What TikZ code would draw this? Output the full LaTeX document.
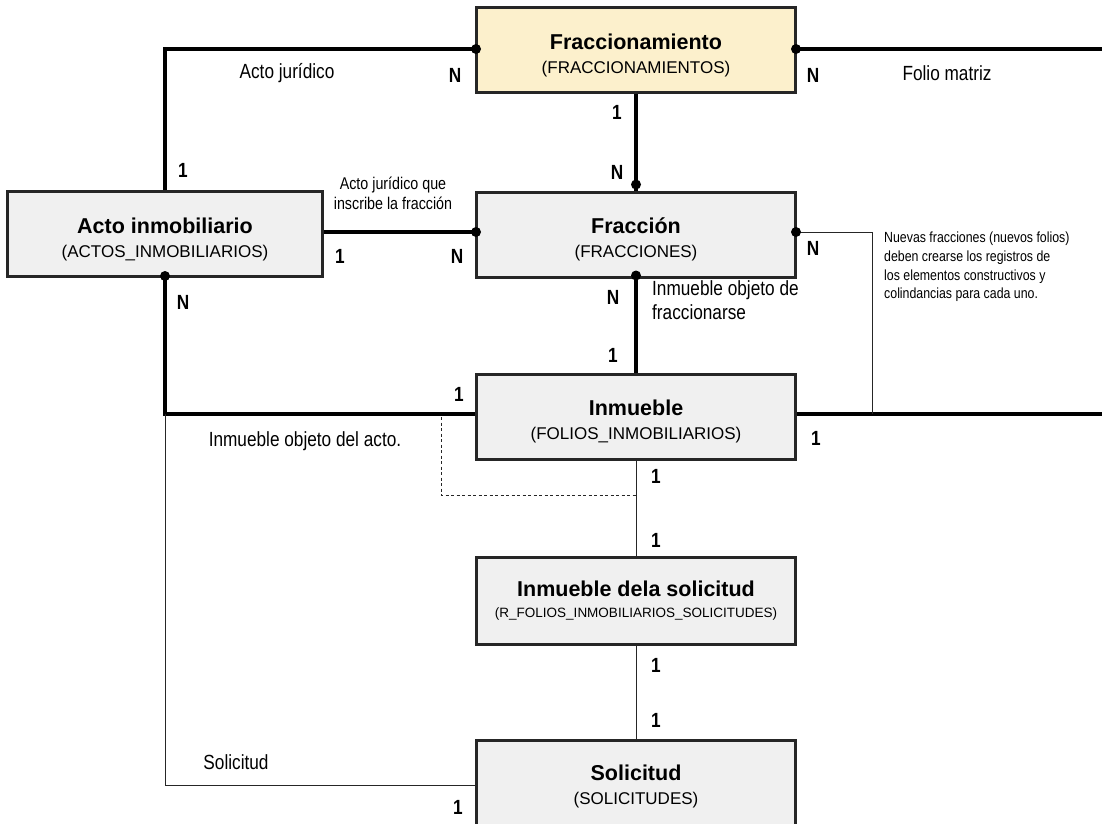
\documentclass[tikz,border=0pt]{standalone}
\usepackage{fontspec}
\setmainfont{Liberation Sans}
\newfontfamily\narrowfont[FakeStretch=0.84]{Liberation Sans}
\usetikzlibrary{calc}
\definecolor{boxgrey}{HTML}{F0F0F0}
\definecolor{boxyellow}{HTML}{FCF0CC}
\definecolor{edge}{HTML}{262626}
\tikzset{
  entity/.style={draw=edge, line width=2pt, minimum width=318pt, minimum height=84pt,
    inner sep=0pt, align=center, fill=boxgrey, font=\fontsize{17}{24}\selectfont},
  heavy/.style={line width=3.6pt, draw=black},
  light/.style={line width=1pt, draw=edge},
  dash rel/.style={line width=0.9pt, draw=edge, dash pattern=on 3pt off 2.5pt},
  card/.style={font=\narrowfont\bfseries\fontsize{20.5}{20.5}\selectfont, inner sep=0pt},
  lbl/.style={font=\narrowfont\fontsize{20.5}{24}\selectfont, inner sep=0pt, align=left},
  midlbl/.style={font=\narrowfont\fontsize{17}{20}\selectfont, inner sep=0pt, align=center},
  small/.style={font=\narrowfont\fontsize{14.7}{18.7}\selectfont, inner sep=0pt, align=left},
  dot/.style={circle, fill=black, inner sep=0pt, minimum size=10pt},
}
% entity title; the strut lowers the two-line block a little inside its box
\newcommand{\ttl}[1]{{\rule{0pt}{26pt}\fontsize{21.5}{24}\selectfont\bfseries #1}}
\begin{document}
\begin{tikzpicture}[x=1pt,y=-1pt]
\useasboundingbox (0,0) rectangle (1102,823);
\fill[white] (0,0) rectangle (1102,823);

% entities
\node[entity, fill=boxyellow] (fracc) at (636,50) {\ttl{Fraccionamiento}\\(FRACCIONAMIENTOS)};
\node[entity, minimum width=314pt] (acto) at (165,234) {\ttl{Acto inmobiliario}\\(ACTOS\_INMOBILIARIOS)};
\node[entity] (fraccion) at (636,234.5) {\ttl{Fracción}\\(FRACCIONES)};
\node[entity] (inm) at (636,416.5) {\ttl{Inmueble}\\(FOLIOS\_INMOBILIARIOS)};
\node[entity, minimum height=86pt, font=\fontsize{13.5}{21}\selectfont] (ids) at (636,601) {{\fontsize{21.5}{24}\selectfont\bfseries Inmueble dela solicitud}\\(R\_FOLIOS\_INMOBILIARIOS\_SOLICITUDES)};
\node[entity, minimum height=110pt, anchor=north] (sol) at (636,740) {};
\node[inner sep=0pt, align=center, font=\fontsize{17}{24}\selectfont] (soltext) at (636,781) {\ttl{Solicitud}\\(SOLICITUDES)};

% free ends leaving the sheet on the right
\coordinate (rtop) at (1110,49);
\coordinate (rbot) at (1110,414);
\coordinate (ncorner) at (872,414);
\coordinate (lcorner) at (165,414);
\coordinate (scorner) at (165,785);
\coordinate (dtop) at (441,417);
\coordinate (dbot) at (441,495);
\coordinate (dmid) at (636,495);

% heavy relations
\draw[heavy] (fracc.west |- 0,49) -| (acto.north);
\draw[heavy] (fracc.east |- 0,49) -- (rtop);
\draw[heavy] (fracc.south) -- (fraccion.north);
\draw[heavy] (acto.east |- 0,232) -- (fraccion.west |- 0,232);
\draw[heavy] (fraccion.south) -- (inm.north);
\draw[heavy] (acto.south) -- (lcorner) -- (inm.west |- lcorner);
\draw[heavy] (inm.east |- rbot) -- (rbot);

% light relations
\draw[light] (fraccion.east |- 0,232) -| (ncorner);
\draw[light] (inm.south) -- (ids.north);
\draw[light] (ids.south) -- (sol.north);
\draw[light] (lcorner) -- (scorner) -- (sol.west |- scorner);
\draw[dash rel] (dtop) -- (dbot) -- (dmid) -- (inm.south);

% redraw entity borders over the line ends
\foreach \n in {fracc,acto,fraccion,inm,ids,sol} \draw[edge, line width=2pt] (\n.north west) rectangle (\n.south east);

% many-side dots
\node[dot] at (fracc.west |- 0,49) {};
\node[dot] at (fracc.east |- 0,49) {};
\node[dot] at ($(fraccion.north)+(0,-7)$) {};
\node[dot] at (fraccion.west |- 0,232) {};
\node[dot] at (fraccion.east |- 0,232) {};
\node[dot] at ($(fraccion.south)+(0,-2)$) {};
\node[dot] at ($(acto.south)+(0,-1)$) {};

% cardinalities
\node[card] at (455,75) {N};
\node[card] at (813,75) {N};
\node[card] at (183,170) {1};
\node[card] at (617,112) {1};
\node[card] at (617,172) {N};
\node[card] at (340,256) {1};
\node[card] at (457,256) {N};
\node[card] at (813,248) {N};
\node[card] at (183,302) {N};
\node[card] at (613,297) {N};
\node[card] at (613,355) {1};
\node[card] at (459,394) {1};
\node[card] at (816,438) {1};
\node[card] at (656,476) {1};
\node[card] at (656,540) {1};
\node[card] at (656,665) {1};
\node[card] at (656,720) {1};
\node[card] at (458,807) {1};

% relation names
\node[lbl] at (287,73) {Acto jurídico};
\node[lbl] at (947,73) {Folio matriz};
\node[midlbl] at (393,193) {Acto jurídico que\\inscribe la fracción};
\node[lbl, anchor=north west] at (652,280) {Inmueble objeto de\\fraccionarse};
\node[lbl] at (305,441) {Inmueble objeto del acto.};
\node[lbl] at (236,762) {Solicitud};
\node[small, anchor=north west] at (884,232) {Nuevas fracciones (nuevos folios)\\deben crearse los registros de\\los elementos constructivos y\\colindancias para cada uno.};
\end{tikzpicture}
\end{document}
